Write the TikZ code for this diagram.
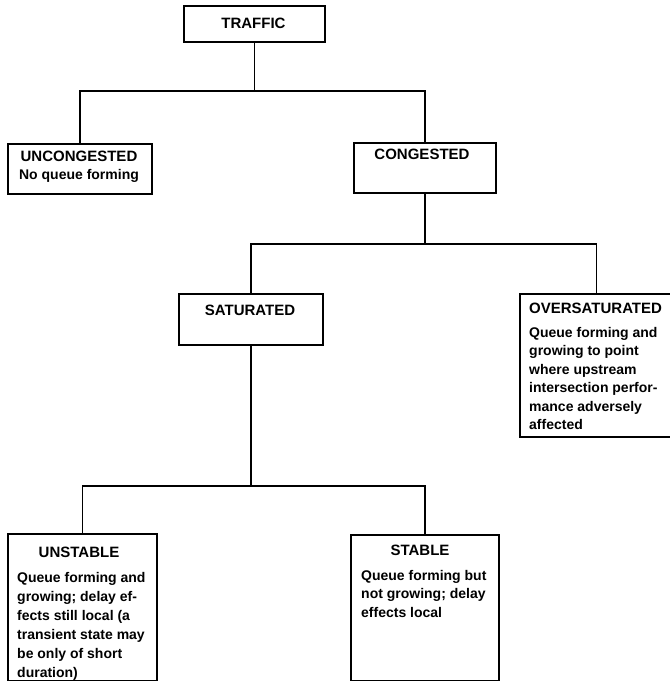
\documentclass[tikz,border=0pt]{standalone}
\usepackage{fontspec}
\setmainfont{Liberation Sans}
\usepackage{tikz}
\usetikzlibrary{positioning}

\tikzset{
	box/.style={draw, line width=1.6pt, inner sep=0pt, anchor=north west},
	head/.style={font=\fontsize{15}{18}\selectfont\bfseries, inner sep=0pt, anchor=base},
	txt/.style={font=\fontsize{14}{18.5}\selectfont\bfseries, inner sep=0pt, align=left, anchor=north west},
	link/.style={line width=1.6pt}
}

\begin{document}
\begin{tikzpicture}[x=1pt, y=-1pt]
				\useasboundingbox (0,0) rectangle (670,681);
				
				% boxes
				\node [box, minimum width=141pt, minimum height=36pt] (traffic) at (183,5) {};
				\node [box, minimum width=144pt, minimum height=50pt] (uncong) at (7,143) {};
				\node [box, minimum width=142pt, minimum height=50pt] (cong) at (353,142) {};
				\node [box, minimum width=144pt, minimum height=51pt] (sat) at (178,293) {};
				\node [box, minimum width=153pt, minimum height=143pt] (oversat) at (519,293) {};
				\node [box, minimum width=149pt, minimum height=147pt] (unstable) at (7,533) {};
				\node [box, minimum width=148pt, minimum height=146pt] (stable) at (350,534) {};
				
				% titles
				\node [head] (trafficT) at (253.5,28.5) {TRAFFIC};
				\node [head] (uncongT) at (79,161.5) {UNCONGESTED};
				\node [head] (congT) at (422,159.5) {CONGESTED};
				\node [head] (satT) at (250,315.5) {SATURATED};
				\node [head, anchor=base west] (oversatT) at (529,313.5) {OVERSATURATED};
				\node [head] (unstableT) at (79,557.5) {UNSTABLE};
				\node [head] (stableT) at (420,555.5) {STABLE};
				
				% texts
				\node [txt, anchor=base] (uncongX) at (79,179) {No queue forming};
				\node [txt] (oversatX) at (529,327) {Queue forming and\\growing to point\\where upstream\\intersection perfor-\\mance adversely\\affected};
				\node [txt, font=\fontsize{14}{19}\selectfont\bfseries] (unstableX) at (17,572) {Queue forming and\\growing; delay ef-\\fects still local (a\\transient state may\\be only of short\\duration)};
				\node [txt] (stableX) at (361,570) {Queue forming but\\not growing; delay\\effects local};
				
				% tree
				\coordinate (j1) at (traffic.south |- 0,91);
				\coordinate (j2) at (cong.south |- 0,244);
				\coordinate (j3) at (sat.south |- 0,486);
				
				\draw [link] (traffic.south) -- (j1);
				\draw [link] (uncong.north) |- (j1) -| (cong.north);
				\draw [link] (cong.south) -- (j2);
				\draw [link] (sat.north) |- (j2) -| (oversat.north);
				\draw [link] (sat.south) -- (j3);
				\draw [link] (unstable.north) |- (j3) -| (stable.north);
\end{tikzpicture}
\end{document}
